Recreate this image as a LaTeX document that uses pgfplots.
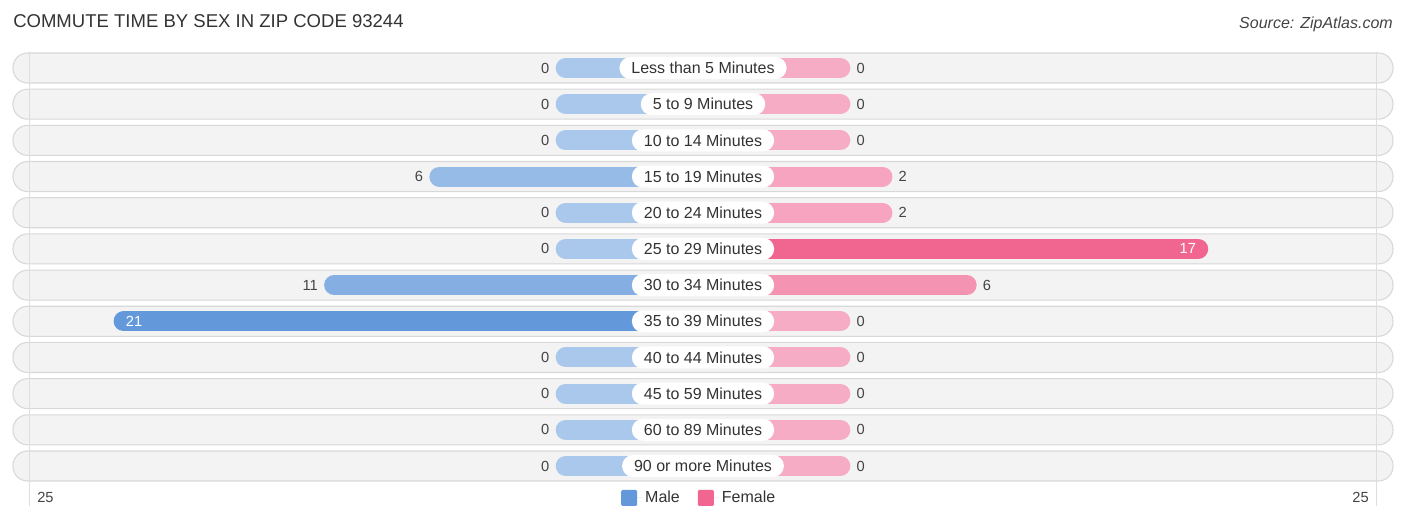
\documentclass[border=0pt]{standalone}
\usepackage{pgfplots}
\pgfplotsset{compat=1.18}
\usepackage{pgfplotstable}
\usepackage{fontspec}
\setmainfont{Liberation Sans}

\definecolor{mlight}{RGB}{170,200,236}
\definecolor{mdark}{RGB}{99,153,218}
\definecolor{flight}{RGB}{247,172,197}
\definecolor{fdark}{RGB}{240,102,144}
\definecolor{pillbg}{RGB}{243,243,243}
\definecolor{pilledge}{RGB}{216,216,216}
\definecolor{txt}{RGB}{51,51,51}
\definecolor{valtxt}{RGB}{68,68,68}

\pgfplotstableread[col sep=comma]{
label,male,female
Less than 5 Minutes,0,0
5 to 9 Minutes,0,0
10 to 14 Minutes,0,0
15 to 19 Minutes,6,2
20 to 24 Minutes,0,2
25 to 29 Minutes,0,17
30 to 34 Minutes,11,6
35 to 39 Minutes,21,0
40 to 44 Minutes,0,0
45 to 59 Minutes,0,0
60 to 89 Minutes,0,0
90 or more Minutes,0,0
}\commute

% bar colour gets darker with the value
\pgfplotsforeachungrouped \i in {0,...,11}{%
  \pgfplotstablegetelem{\i}{male}\of\commute
  \pgfmathtruncatemacro\p{100*\pgfplotsretval/21}%
  \colorlet{mc\i}{mdark!\p!mlight}%
  \pgfplotstablegetelem{\i}{female}\of\commute
  \pgfmathtruncatemacro\p{100*\pgfplotsretval/17}%
  \colorlet{fc\i}{fdark!\p!flight}%
}

\begin{document}
\begin{tikzpicture}
\begin{axis}[
  scale only axis,
  width=1035.66pt, height=325.62pt,
  xmin=-32.8, xmax=32.8,
  ymin=-0.5, ymax=11.5,
  y dir=reverse,
  hide axis,
  clip=false,
  legend columns=2,
  legend style={at={(0.4975,-0.032)}, anchor=center, draw=none, fill=none,
    font=\fontsize{12}{14}\selectfont, text=txt,
    /tikz/every even column/.append style={column sep=11.5pt}},
  legend image code/.code={%
    \path[#1, rounded corners=1pt] (0pt,-6pt) rectangle (12pt,6pt);
    \path (0pt,0pt) -- (16pt,0pt);},
]
% row backgrounds
\pgfplotsinvokeforeach{0,...,11}{
  \draw[pilledge, fill=pillbg, line width=0.8pt, rounded corners=11pt]
    (axis cs:-32.78,#1-0.415) rectangle (axis cs:32.78,#1+0.415);
}
\draw[black!13, line width=0.6pt] (axis cs:-32,-0.45) -- (axis cs:-32,12.1);
\draw[black!13, line width=0.6pt] (axis cs:32,-0.45) -- (axis cs:32,12.1);

% bars: stub of 7 units plus the value, round caps
\pgfplotsinvokeforeach{0,...,11}{
  \addplot[forget plot, xcomb, mc#1, line width=15pt, line cap=round,
    restrict expr to domain={\coordindex-#1}{-0.5:0.5}]
    table[x expr={-(\thisrow{male}+7-0.475)}, y expr=\coordindex] {\commute};
  \addplot[forget plot, xcomb, fc#1, line width=15pt, line cap=round,
    restrict expr to domain={\coordindex-#1}{-0.5:0.5}]
    table[x expr={\thisrow{female}+7-0.475}, y expr=\coordindex] {\commute};
}

% category labels
\addplot[forget plot, draw=none, mark=none, nodes near coords,
  point meta=explicit symbolic,
  every node near coord/.style={anchor=center, fill=white, rounded corners=8.25pt,
    inner xsep=9pt, inner ysep=0pt, minimum height=16.5pt,
    font=\fontsize{12}{14}\selectfont, text=txt}]
  table[x expr=0, y expr=\coordindex, meta=label] {\commute};

% value labels, outside the bars
\addplot[forget plot, draw=none, mark=none, nodes near coords,
  point meta=explicit symbolic,
  restrict expr to domain={\thisrow{male}}{-1:14},
  every node near coord/.style={anchor=east, inner sep=0pt, xshift=-4.5pt,
    font=\fontsize{11}{13}\selectfont, text=valtxt}]
  table[x expr={-(\thisrow{male}+7)}, y expr=\coordindex, meta=male] {\commute};
\addplot[forget plot, draw=none, mark=none, nodes near coords,
  point meta=explicit symbolic,
  restrict expr to domain={\thisrow{female}}{-1:14},
  every node near coord/.style={anchor=west, inner sep=0pt, xshift=4.5pt,
    font=\fontsize{11}{13}\selectfont, text=valtxt}]
  table[x expr={\thisrow{female}+7}, y expr=\coordindex, meta=female] {\commute};
% value labels, inside the long bars
\addplot[forget plot, draw=none, mark=none, nodes near coords,
  point meta=explicit symbolic,
  restrict expr to domain={\thisrow{male}}{14:1000},
  every node near coord/.style={anchor=west, inner sep=0pt, xshift=9pt,
    font=\fontsize{11}{13}\selectfont, text=white}]
  table[x expr={-(\thisrow{male}+7)}, y expr=\coordindex, meta=male] {\commute};
\addplot[forget plot, draw=none, mark=none, nodes near coords,
  point meta=explicit symbolic,
  restrict expr to domain={\thisrow{female}}{14:1000},
  every node near coord/.style={anchor=east, inner sep=0pt, xshift=-9pt,
    font=\fontsize{11}{13}\selectfont, text=white}]
  table[x expr={\thisrow{female}+7}, y expr=\coordindex, meta=female] {\commute};

\addlegendimage{draw=none, fill=mdark}
\addlegendentry{Male}
\addlegendimage{draw=none, fill=fdark}
\addlegendentry{Female}

\node[anchor=west, inner sep=0pt, text=txt, font=\fontsize{13.9}{16}\selectfont]
  at (axis cs:-32.78,-1.299) {COMMUTE TIME BY SEX IN ZIP CODE 93244};
\node[anchor=east, inner sep=0pt, text=valtxt, font=\itshape\fontsize{12}{14}\selectfont]
  at (axis cs:32.78,-1.216) {Source: ZipAtlas.com};
\node[anchor=west, inner sep=0pt, text=valtxt, font=\fontsize{11}{13}\selectfont]
  at (axis cs:-31.64,11.857) {25};
\node[anchor=east, inner sep=0pt, text=valtxt, font=\fontsize{11}{13}\selectfont]
  at (axis cs:31.64,11.857) {25};

\coordinate (bbl) at (axis cs:-33.397,12.576);
\coordinate (btr) at (axis cs:33.397,-1.8795);
\end{axis}
\pgfresetboundingbox
\path[use as bounding box] (bbl) rectangle (btr);
\end{tikzpicture}
\end{document}
